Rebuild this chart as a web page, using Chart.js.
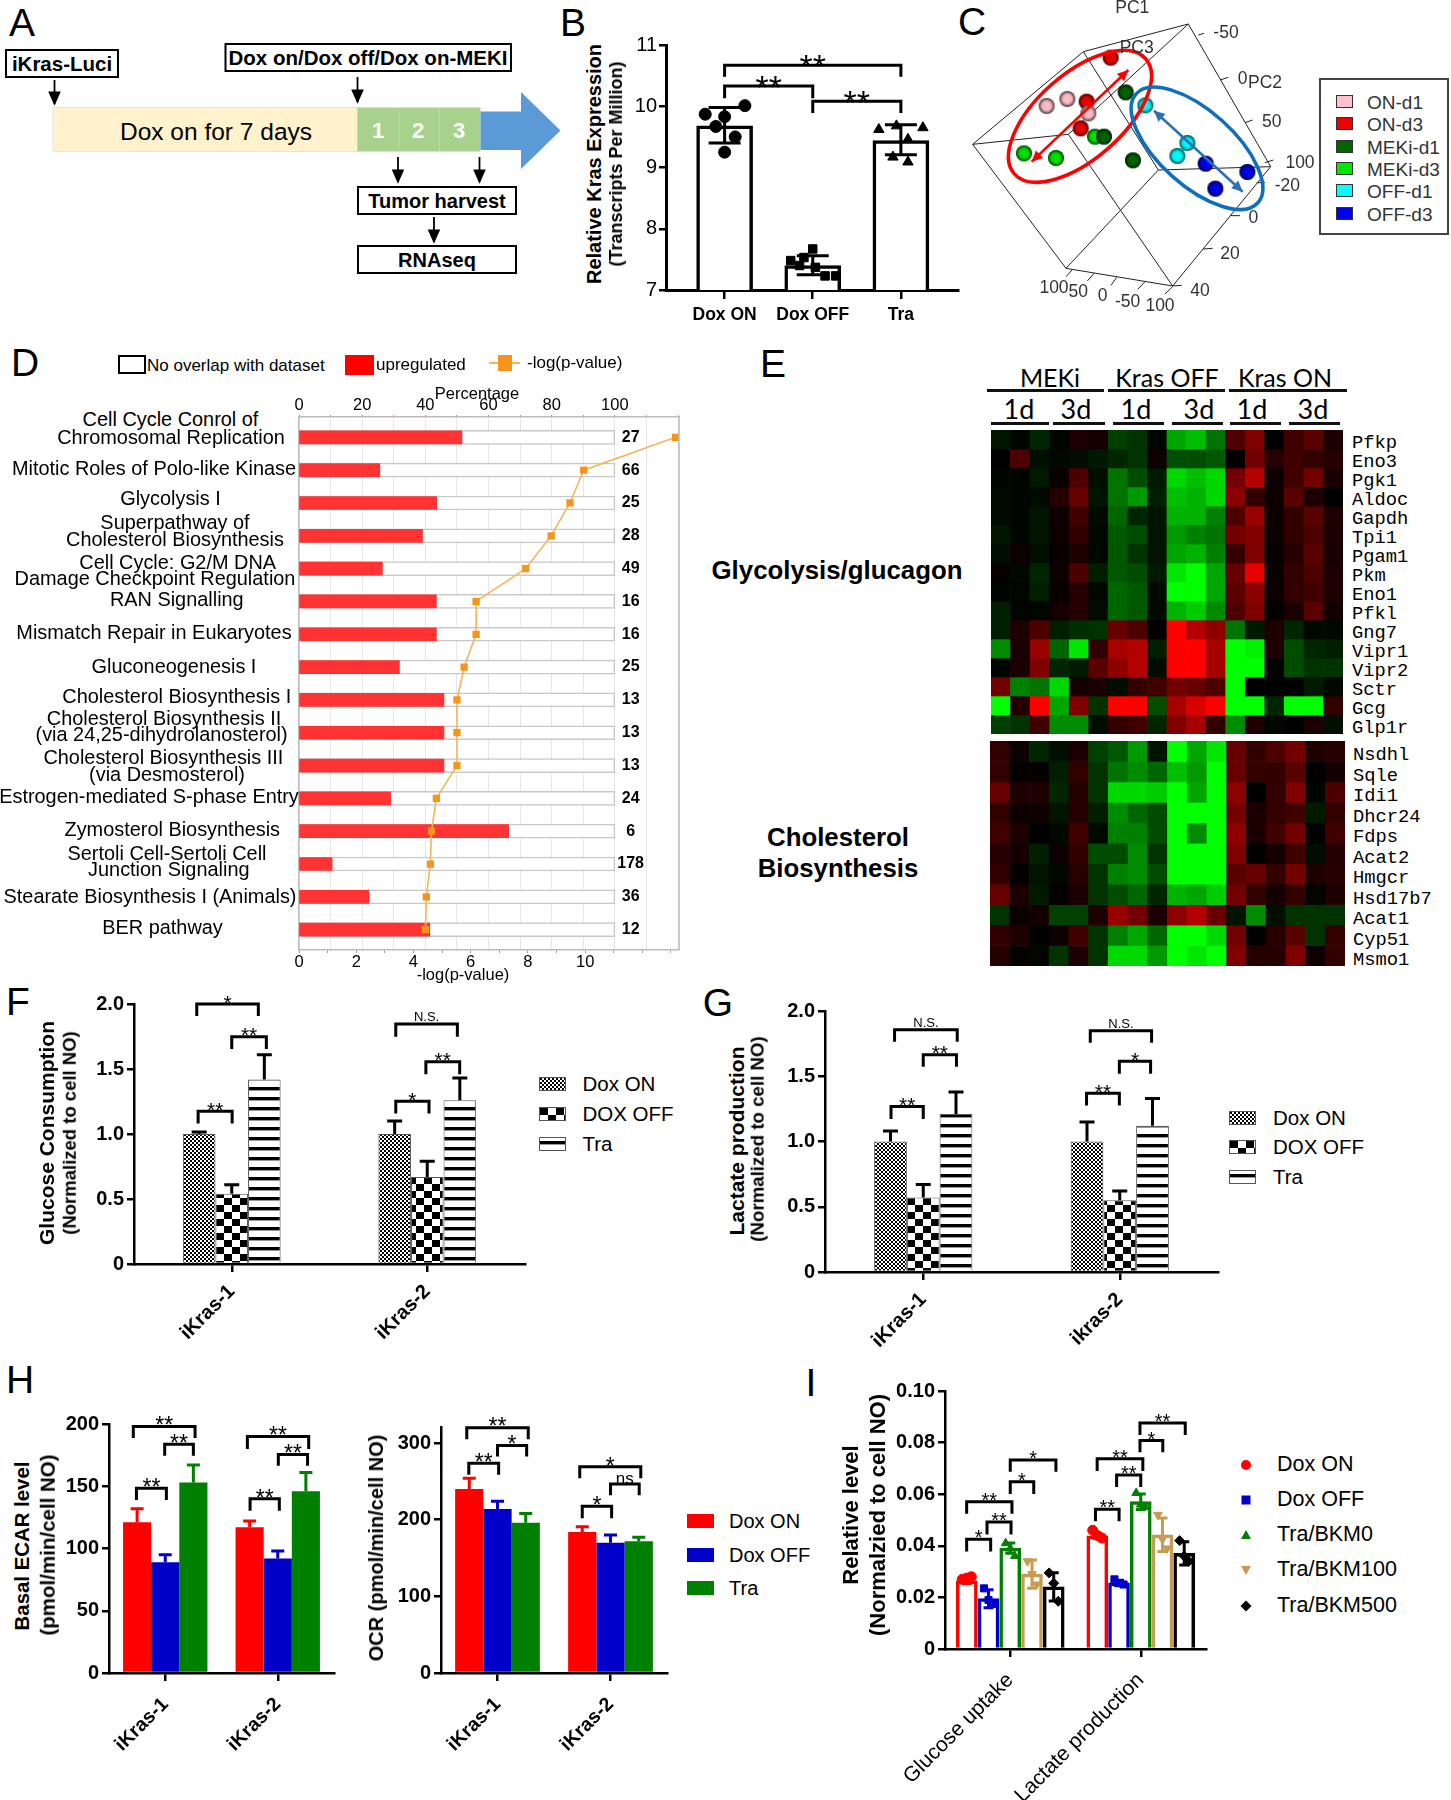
<!DOCTYPE html>
<html>
<head>
<meta charset="utf-8">
<script src="https://cdn.jsdelivr.net/npm/chart.js@4"></script>
<style>
  html, body { margin: 0; background: #fff; }
  #page { position: relative; width: 1451px; height: 1800px; overflow: hidden; font-family: "Liberation Sans", Arial, sans-serif; color: #000; }
  #page canvas { position: absolute; }
  .t { position: absolute; white-space: nowrap; line-height: 1; }
</style>
</head>
<body>
<div id="page"></div>
<script>
// panel B
const bCategories = ["Dox ON", "Dox OFF", "Tra"];
const bMeans = [9.68, 7.4, 9.44];
const bErrHi = [9.98, 7.56, 9.7];
const bErrLo = [9.4, 7.25, 9.21];
const bDoxOn = [10.01, 9.87, 9.83, 9.67, 9.5, 9.25];
const bDoxOnSpread = [0.23, -0.22, 0, -0.1, 0.12, 0];
const bDoxOff = [7.67, 7.53, 7.48, 7.4, 7.37, 7.23, 7.23];
const bDoxOffSpread = [0, -0.1, -0.25, -0.15, 0.03, 0.14, 0.26];
const bTra = [9.62, 9.68, 9.65, 9.46, 9.17, 9.09];
const bTraSpread = [-0.25, -0.05, 0.25, 0.08, -0.09, 0.08];

// panel C
const pcaNames = ["ON-d1", "ON-d3", "MEKi-d1", "MEKi-d3", "OFF-d1", "OFF-d3"];
const pcaColors = ["#ffc0cb", "#ee0000", "#006400", "#00e600", "#00ffff", "#0000ee"];
const pcaOnD1 = [[290, 318], [352, 297], [415, 340]];
const pcaOnD3 = [[482, 173], [410, 305], [392, 385]];
const pcaMekD1 = [[527, 277], [462, 410], [549, 481]];
const pcaMekD3 = [[222, 460], [318, 474], [435, 410]];
const pcaOffD1 = [[586, 316], [712, 429], [682, 468]];
const pcaOffD3 = [[767, 491], [892, 516], [796, 566]];

// panel D
const dCounts = [27, 66, 25, 28, 49, 16, 16, 25, 13, 13, 13, 24, 6, 178, 36, 12];
const dPercent = [51.6, 25.6, 43.6, 39.1, 26.4, 43.5, 43.5, 31.8, 45.9, 45.9, 45.9, 29.0, 66.4, 10.5, 22.2, 41.4];
const dLogP = [13.16, 9.95, 9.47, 8.81, 7.92, 6.19, 6.19, 5.77, 5.52, 5.52, 5.52, 4.8, 4.63, 4.59, 4.45, 4.42];

// panel E, >0 green, <0 red
const heatColumns = ["M1a","M1b","M1c","M3a","M3b","M3c","F1a","F1b","F1c","F3a","F3b","F3c","O1a","O1b","O1c","O3a","O3b","O3c"];
const glycoGenes = ["Pfkp","Eno3","Pgk1","Aldoc","Gapdh","Tpi1","Pgam1","Pkm","Eno1","Pfkl","Gng7","Vipr1","Vipr2","Sctr","Gcg","Glp1r"];
const cholGenes = ["Nsdhl","Sqle","Idi1","Dhcr24","Fdps","Acat2","Hmgcr","Hsd17b7","Acat1","Cyp51","Msmo1"];
const glycoHeat = [
  [.08,.02,.15,.02,-.12,-.08,.25,.2,.02,.65,.75,.45,-.3,-.5,0,-.25,-.35,-.1],
  [0,-.3,.06,.03,.05,.1,.15,.2,-.05,.3,.3,.35,0,-.45,-.15,-.25,-.2,-.15],
  [.02,.02,.1,-.04,-.3,.06,.45,.3,.1,.85,.75,.85,-.45,-.7,-.05,-.25,-.45,-.1],
  [.04,.02,.04,-.15,-.4,.08,.45,.6,.12,.75,.7,.85,-.55,-.2,-.06,-.35,-.1,0],
  [.04,.02,.08,-.06,-.25,.04,.4,.15,.08,.7,.7,.5,-.3,-.6,-.05,-.2,-.35,-.12],
  [.08,.02,.08,-.05,-.2,.03,.35,.3,.08,.6,.5,.45,-.45,-.5,-.05,-.2,-.3,-.1],
  [.05,-.05,.06,-.03,-.12,.03,.35,.2,.08,.65,.7,.5,-.2,-.5,-.03,-.15,-.35,-.1],
  [-.03,.03,.15,-.05,-.3,.12,.35,.3,.1,.9,1,.65,-.4,-.9,-.04,-.2,-.3,-.12],
  [.02,.02,.12,-.03,-.15,.03,.4,.35,.04,1,1,.65,-.35,-.55,-.05,-.2,-.25,-.12],
  [.12,.02,.02,-.08,-.15,.05,.4,.35,.04,.7,.8,.55,-.3,-.5,-.02,-.1,-.35,-.08],
  [.12,-.12,-.3,.12,.18,.2,-.4,-.3,0,-1,-.7,-.55,.45,.1,-.12,.15,.03,.03],
  [.55,-.1,-.6,.4,.9,-.2,-.65,-.7,.12,-1,-1,-.65,1,.95,-.12,.3,.15,.12],
  [.02,-.1,-.5,.15,.1,-.35,-.55,-.7,.05,-1,-1,-.65,1,1,0,.3,.2,.2],
  [-.45,.5,.45,.85,-.08,-.1,.05,-.2,-.25,-.45,-.4,-.3,1,0,0,0,.1,.03],
  [1,-.15,-1,.65,-.5,.2,-1,-1,.3,-.65,-.85,-1,1,1,.15,1,1,-.2],
  [.25,.2,-.25,.55,.55,.05,-.2,-.25,.15,-.5,-.65,-.2,.55,-.12,.03,0,-.1,.06]
];
const cholHeat = [
  [-.2,-.05,.15,.06,-.1,.25,.35,.6,.08,1,.65,.9,-.4,-.2,-.3,-.45,-.12,-.15],
  [-.2,-.02,-.02,.12,-.2,.2,.45,.55,.4,.75,.6,1,-.4,-.2,-.2,-.35,0,-.08],
  [-.4,-.12,-.12,.15,-.15,.2,.85,.85,.8,1,.65,1,-.55,0,-.2,-.5,.02,-.3],
  [-.2,-.05,-.05,.08,-.15,.12,.55,.4,.3,1,1,1,-.45,-.1,-.2,-.25,.1,-.2],
  [-.25,-.1,0,.03,-.25,.04,.5,.5,.3,1,.55,1,-.55,-.1,-.25,-.45,0,-.25],
  [-.15,-.08,.12,-.05,-.2,.3,.3,.55,.2,1,1,1,-.5,-.02,-.08,-.25,.05,-.15],
  [-.2,-.02,.08,.03,-.15,.2,.5,.55,.3,1,1,1,-.35,-.4,-.2,-.45,-.12,-.15],
  [-.4,-.1,.1,-.02,-.1,.2,.3,.4,.15,.7,.65,.8,-.45,-.2,-.08,-.2,.02,-.12],
  [.2,-.04,-.08,.25,.25,-.12,-.6,-.45,-.1,-.55,-.7,-.4,.08,.55,.06,.2,.2,.2],
  [-.2,-.12,0,-.06,-.25,.2,.5,.65,.4,1,1,.85,-.45,0,-.15,-.35,.2,-.2],
  [-.15,-.02,.02,.2,-.12,.2,.85,.85,.6,1,.9,1,-.5,-.15,-.15,-.5,-.05,-.2]
];

// panels F, G, H
const cellLinesF = ["iKras-1", "iKras-2"];
const cellLinesG = ["iKras-1", "ikras-2"];
const fSeries = ["Dox ON", "DOX OFF", "Tra"];
const fMeans = [[1.0, 1.0], [0.54, 0.67], [1.42, 1.26]];
const fTops = [[1.015, 1.10], [0.61, 0.79], [1.61, 1.43]];
const gMeans = [[1.0, 1.0], [0.57, 0.55], [1.21, 1.12]];
const gTops = [[1.08, 1.15], [0.67, 0.62], [1.38, 1.33]];
const hSeries = ["Dox ON", "Dox OFF", "Tra"];
const ecarMeans = [[121, 117], [89, 92], [153, 146]];
const ecarTops = [[132, 122], [95, 98], [167, 161]];
const ocrMeans = [[240, 184], [214, 170], [196, 172]];
const ocrTops = [[254, 191], [224, 180], [208, 177]];

// panel I
const iCategories = ["Glucose uptake", "Lactate production"];
const iSeries = ["Dox ON", "Dox OFF", "Tra/BKM0", "Tra/BKM100", "Tra/BKM500"];
const iMeans = [[.0264, .0439], [.0195, .0256], [.0391, .0571], [.029, .0443], [.0241, .0371]];
const iErr = [[.001, .001], [.0035, .001], [.002, .003], [.0055, .0065], [.0055, .0045]];
const iPoints = [
  [[.027, .0275, .028], [.046, .044, .043]],
  [[.0235, .019, .0175], [.027, .0255, .025]],
  [[.041, .039, .036], [.0605, .056, .055]],
  [[.034, .029, .025], [.052, .0425, .039]],
  [[.0295, .0255, .0185], [.042, .036, .034]]
];

Chart.defaults.animation = false;
Chart.defaults.font.family = '"Liberation Sans", Arial, sans-serif';
Chart.defaults.color = "#000";
Chart.defaults.layout.autoPadding = false;
Chart.defaults.plugins.legend.display = false;
Chart.defaults.plugins.tooltip.enabled = false;

const page = document.getElementById("page");

function label(text, x, y, opts = {}) {
  const el = document.createElement("div");
  el.className = "t";
  el.textContent = text;
  el.style.left = x + "px";
  el.style.top = y + "px";
  el.style.fontSize = (opts.size || 18) + "px";
  if (opts.bold) el.style.fontWeight = "bold";
  if (opts.color) el.style.color = opts.color;
  if (opts.family) el.style.fontFamily = opts.family;
  const tx = opts.align === "left" ? "0" : "-50%";
  el.style.transform = `translate(${tx},-50%)` + (opts.rot ? ` rotate(${opts.rot}deg)` : "");
  page.appendChild(el);
  return el;
}

// puts a canvas so that the plot area lands on area = [x0, y0, x1, y1]
function addChart(area, pad, config) {
  const c = document.createElement("canvas");
  c.width = Math.round(area[2] - area[0] + pad.l + pad.r);
  c.height = Math.round(area[3] - area[1] + pad.t + pad.b);
  c.style.left = (area[0] - pad.l) + "px";
  c.style.top = (area[1] - pad.t) + "px";
  page.appendChild(c);
  config.options = Object.assign({ responsive: false, maintainAspectRatio: false }, config.options);
  return new Chart(c.getContext("2d"), config);
}

// significance brackets: [x from, x to, value of top, value of leg end, text]
function bracketPlugin(list, starSize) {
  return {
    id: "brackets",
    afterDatasetsDraw(chart) {
      const { ctx, scales } = chart;
      ctx.save();
      ctx.strokeStyle = "#000";
      ctx.fillStyle = "#000";
      ctx.lineWidth = 3;
      ctx.textAlign = "center";
      list.forEach(([a, b, top, end, txt]) => {
        const x1 = scales.x.getPixelForValue(a), x2 = scales.x.getPixelForValue(b);
        const yt = scales.y.getPixelForValue(top), ye = scales.y.getPixelForValue(end);
        ctx.beginPath();
        ctx.moveTo(x1, ye); ctx.lineTo(x1, yt); ctx.lineTo(x2, yt); ctx.lineTo(x2, ye);
        ctx.stroke();
        if (txt[0] === "*") {
          ctx.font = starSize + 'px "Liberation Sans"';
          ctx.fillText(txt, (x1 + x2) / 2, yt - 6.5 + 0.575 * starSize);
        } else {
          ctx.font = (txt === "ns" ? 17 : 13) + 'px "Liberation Sans"';
          ctx.fillText(txt, (x1 + x2) / 2, yt - (txt === "ns" ? 0 : 3));
        }
      });
      ctx.restore();
    }
  };
}

// error bars use the bars the library placed
const errorPlugin = {
  id: "errors",
  afterDatasetsDraw(chart) {
    const { ctx, scales } = chart;
    ctx.save();
    chart.data.datasets.forEach((ds, i) => {
      if (!ds.errHi) return;
      const meta = chart.getDatasetMeta(i);
      ctx.strokeStyle = ds.errColor || "#000";
      ctx.lineWidth = ds.errWidth || 3;
      const cap = ds.errCap || 7;
      meta.data.forEach((bar, j) => {
        const hi = scales.y.getPixelForValue(ds.errHi[j]);
        const lo = ds.errLo ? scales.y.getPixelForValue(ds.errLo[j]) : bar.y;
        ctx.beginPath();
        ctx.moveTo(bar.x, lo); ctx.lineTo(bar.x, hi);
        ctx.moveTo(bar.x - cap, hi); ctx.lineTo(bar.x + cap, hi);
        if (ds.errLo) { ctx.moveTo(bar.x - cap, lo); ctx.lineTo(bar.x + cap, lo); }
        ctx.stroke();
      });
    });
    ctx.restore();
  }
};

function axisY(pad, max, step, font, extra) {
  return Object.assign({
    min: 0, max: max,
    afterFit: s => { s.width = pad.l; },
    border: { color: "#000", width: 2.5 },
    grid: { drawOnChartArea: false, color: "#000", lineWidth: 2.5, tickLength: 7 },
    ticks: { stepSize: step, font: font, padding: 3, includeBounds: false, color: "#000" }
  }, extra);
}
function axisX(pad, font, padding) {
  return {
    afterFit: s => { s.height = pad.b; },
    border: { color: "#000", width: 2.5 },
    grid: { drawOnChartArea: false, color: "#000", lineWidth: 2.5, tickLength: 8, offset: false },
    ticks: { font: font, minRotation: 45, maxRotation: 45, padding: padding, autoSkip: false, color: "#000" }
  };
}

function pattern(w, h, draw) {
  const c = document.createElement("canvas");
  c.width = w; c.height = h;
  const g = c.getContext("2d");
  g.fillStyle = "#fff";
  g.fillRect(0, 0, w, h);
  g.fillStyle = "#000";
  draw(g);
  return c;
}
const tileFine = pattern(4, 4, g => { g.fillRect(0, 0, 2, 2); g.fillRect(2, 2, 2, 2); });
const tileCheck = pattern(16, 14, g => { g.fillRect(0, 0, 8, 7); g.fillRect(8, 7, 8, 7); });
const tileStripe = pattern(8, 10, g => { g.fillRect(0, 3, 8, 3.4); });
const tiles = [tileFine, tileCheck, tileStripe];

function legendRows(names, x, ys, textX, size, swatch) {
  names.forEach((n, i) => {
    swatch(i, x, ys[i]);
    label(n, textX, ys[i], { size: size, align: "left" });
  });
}
function patternSwatch(i, x, y, w) {
  const d = document.createElement("div");
  d.style.cssText = `position:absolute;left:${x}px;top:${y - 7}px;width:${w}px;height:14px;border:1px solid #555;box-sizing:border-box;background:url(${tiles[i].toDataURL()})`;
  page.appendChild(d);
}
function colorSwatch(color, x, y) {
  const d = document.createElement("div");
  d.style.cssText = `position:absolute;left:${x}px;top:${y - 7}px;width:27px;height:14px;background:${color}`;
  page.appendChild(d);
}

/* ---------- panel letters ---------- */
[["A", 22, 22], ["B", 573, 22], ["C", 972, 21], ["D", 25, 362], ["E", 773, 363], ["F", 18, 1001],
 ["G", 718, 1002], ["H", 20, 1379], ["I", 811, 1382]].forEach(p => label(p[0], p[1], p[2], { size: 39 }));

/* ---------- panel A, the schedule drawing ---------- */
const ns = "http://www.w3.org/2000/svg";
const svg = document.createElementNS(ns, "svg");
svg.setAttribute("width", 570);
svg.setAttribute("height", 290);
svg.style.cssText = "position:absolute;left:0;top:0";
svg.innerHTML = `
  <defs><marker id="ah" markerWidth="8" markerHeight="8" refX="7" refY="3.5" orient="auto"><path d="M0 0L8 3.5L0 7z" fill="#000"/></marker></defs>
  <rect x="53" y="107.5" width="304.5" height="44" fill="#fff2cc" stroke="#e4e4e4"/>
  <rect x="357.5" y="107.5" width="123" height="44" fill="#a9d18e"/>
  <path d="M399 107.5V151.5M439.5 107.5V151.5" stroke="#b9dca2" fill="none"/>
  <path d="M480.5 111.5H521V92L560.5 130.5L521 169V150H480.5z" fill="#5b9bd5"/>
  <rect x="6" y="50" width="112" height="27" fill="#fff" stroke="#000" stroke-width="2"/>
  <rect x="225.5" y="44" width="285.5" height="27" fill="#fff" stroke="#000" stroke-width="2"/>
  <rect x="358" y="187" width="158" height="27" fill="#fff" stroke="#000" stroke-width="2"/>
  <rect x="358" y="246" width="158" height="27" fill="#fff" stroke="#000" stroke-width="2"/>
  <g stroke="#000" stroke-width="1.8" marker-end="url(#ah)">
    <line x1="54.5" y1="80" x2="54.5" y2="104"/>
    <line x1="357.5" y1="77" x2="357.5" y2="102"/>
    <line x1="398" y1="157" x2="398" y2="182"/>
    <line x1="479.5" y1="157" x2="479.5" y2="182"/>
    <line x1="434" y1="217" x2="434" y2="242"/>
  </g>`;
page.appendChild(svg);
label("iKras-Luci", 62, 64, { size: 20.5, bold: true });
label("Dox on/Dox off/Dox on-MEKI", 368, 58, { size: 20.5, bold: true });
label("Dox on for 7 days", 216, 132, { size: 24.5 });
[["1", 378], ["2", 418], ["3", 459]].forEach(d => label(d[0], d[1], 131, { size: 22, bold: true, color: "#fff" }));
label("Tumor harvest", 437, 201, { size: 20, bold: true });
label("RNAseq", 437, 260, { size: 20, bold: true });

/* ---------- panel B ---------- */
const padB = { l: 60, t: 10, r: 4, b: 40 };
const bScatter = (vals, spread, g, style) => ({
  type: "scatter", order: 0,
  data: vals.map((v, k) => ({ x: g + spread[k], y: v })),
  pointStyle: style, pointRadius: 6, pointBackgroundColor: "#000", pointBorderColor: "#000"
});
addChart([665.5, 41, 957, 289.7], padB, {
  type: "bar",
  data: {
    datasets: [
      bScatter(bDoxOn, bDoxOnSpread, 0, "circle"),
      bScatter(bDoxOff, bDoxOffSpread, 1, "rect"),
      bScatter(bTra, bTraSpread, 2, "triangle"),
      {
        order: 1, data: bMeans.map((v, k) => ({ x: k, y: v })),
        backgroundColor: "#fff", borderColor: "#000", borderWidth: 3.5, barThickness: 56,
        errHi: bErrHi, errLo: bErrLo, errCap: 16, errWidth: 3
      }
    ]
  },
  options: {
    layout: { padding: { right: padB.r, top: padB.t } },
    scales: {
      x: {
        type: "linear", min: -0.665, max: 2.648, offset: false,
        afterFit: s => { s.height = padB.b; },
        afterBuildTicks: s => { s.ticks = bCategories.map((n, k) => ({ value: k })); },
        border: { color: "#000", width: 3 },
        grid: { drawOnChartArea: false, color: "#000", lineWidth: 2.5, tickLength: 9, offset: false },
        ticks: { callback: v => bCategories[v], font: { size: 17.5, weight: "bold" }, maxRotation: 0, padding: 6, color: "#000" }
      },
      y: {
        min: 7, max: 11,
        afterFit: s => { s.width = padB.l; },
        border: { color: "#000", width: 3 },
        grid: { drawOnChartArea: false, color: "#000", lineWidth: 2.5, tickLength: 7 },
        ticks: { stepSize: 1, font: { size: 20 }, padding: 2, color: "#000" }
      }
    }
  },
  plugins: [errorPlugin, bracketPlugin([
    [0, 2, 10.67, 10.48, "**"],
    [0, 1, 10.33, 10.13, "**"],
    [1, 2, 10.08, 9.89, "**"]
  ], 34)]
});
label("Relative Kras Expression", 594, 164, { size: 20, bold: true, rot: -90 });
label("(Transcripts Per Million)", 616, 164, { size: 18, bold: true, rot: -90 });

/* ---------- panel C ---------- */
// little shaded ball, used as the point style of the scatter
function ball(color, r) {
  const c = document.createElement("canvas");
  c.width = c.height = r * 2 + 2;
  const g = c.getContext("2d");
  const grad = g.createRadialGradient(r + 1, r + 1, 0, r + 1, r + 1, r);
  grad.addColorStop(0, "rgba(0,0,0,0)");
  grad.addColorStop(0.55, "rgba(0,0,0,0.05)");
  grad.addColorStop(1, "rgba(0,0,0,0.7)");
  g.fillStyle = color;
  g.beginPath(); g.arc(r + 1, r + 1, r, 0, 7); g.fill();
  g.fillStyle = grad;
  g.beginPath(); g.arc(r + 1, r + 1, r, 0, 7); g.fill();
  return c;
}
const pcaFrame = [
  [[68,433],[400,155],[715,72],[962,500],[668,858],[348,805],[68,433]],
  [[68,433],[355,403],[668,858]], [[355,403],[715,72]], [[400,155],[625,510]],
  [[625,510],[962,500]], [[625,510],[348,805]],
  [[745,105],[762,100]], [[810,240],[835,232]], [[885,368],[908,360]], [[945,488],[970,480]],
  [[920,548],[945,548]], [[843,647],[870,647]], [[760,747],[788,745]], [[668,858],[695,856]],
  [[348,830],[368,808]], [[412,843],[432,820]], [[483,856],[500,832]], [[563,868],[585,845]], [[645,882],[668,860]]
];
const pcaFramePlugin = {
  id: "pcaFrame",
  beforeDatasetsDraw(chart) {
    const { ctx, scales: { x, y } } = chart;
    ctx.save();
    ctx.strokeStyle = "#222";
    ctx.lineWidth = 1;
    pcaFrame.forEach(path => {
      ctx.beginPath();
      path.forEach((p, i) => i ? ctx.lineTo(x.getPixelForValue(p[0]), y.getPixelForValue(p[1])) : ctx.moveTo(x.getPixelForValue(p[0]), y.getPixelForValue(p[1])));
      ctx.stroke();
    });
    ctx.restore();
  },
  afterDatasetsDraw(chart) {
    const { ctx, scales: { x, y } } = chart;
    const dArrow = (a, b, col) => {
      const x1 = x.getPixelForValue(a[0]), y1 = y.getPixelForValue(a[1]);
      const x2 = x.getPixelForValue(b[0]), y2 = y.getPixelForValue(b[1]);
      const ang = Math.atan2(y2 - y1, x2 - x1);
      ctx.strokeStyle = ctx.fillStyle = col;
      ctx.lineWidth = 2.6;
      ctx.beginPath(); ctx.moveTo(x1, y1); ctx.lineTo(x2, y2); ctx.stroke();
      [[x1, y1, ang + Math.PI], [x2, y2, ang]].forEach(([hx, hy, t]) => {
        ctx.beginPath();
        ctx.moveTo(hx, hy);
        ctx.lineTo(hx - 12 * Math.cos(t - 0.45), hy - 12 * Math.sin(t - 0.45));
        ctx.lineTo(hx - 12 * Math.cos(t + 0.45), hy - 12 * Math.sin(t + 0.45));
        ctx.closePath(); ctx.fill();
      });
    };
    const oval = (c, a, b, rot, col) => {
      ctx.strokeStyle = col;
      ctx.lineWidth = 3.6;
      ctx.beginPath();
      ctx.ellipse(x.getPixelForValue(c[0]), y.getPixelForValue(c[1]),
        x.getPixelForValue(a) - x.getPixelForValue(0), x.getPixelForValue(b) - x.getPixelForValue(0), rot, 0, 7);
      ctx.stroke();
    };
    ctx.save();
    oval([390, 349], 262, 128, -0.72, "#ff0000");
    oval([741, 445], 245, 112, 0.73, "#0f6fbf");
    dArrow([245, 485], [535, 210], "#ff0000");
    dArrow([612, 332], [878, 575], "#2a72b5");
    ctx.restore();
  }
};
const pcaSeries = [pcaOnD1, pcaOnD3, pcaMekD1, pcaMekD3, pcaOffD1, pcaOffD3];
addChart([950, 0, 1290, 330], { l: 0, t: 0, r: 0, b: 0 }, {
  type: "scatter",
  data: {
    datasets: pcaSeries.map((pts, i) => ({
      label: pcaNames[i],
      data: pts.map(p => ({ x: p[0], y: p[1] })),
      pointStyle: ball(pcaColors[i], 8), pointRadius: 8
    }))
  },
  options: {
    scales: {
      x: { display: false, min: 0, max: 1020, offset: false },
      y: { display: false, min: 0, max: 990, reverse: true }
    }
  },
  plugins: [pcaFramePlugin]
});
[["PC1", 547, 25], ["PC3", 560, 145], ["PC2", 945, 248], ["-50", 828, 100], ["0", 878, 238], ["50", 965, 365],
 ["100", 1050, 488], ["-20", 1012, 558], ["0", 910, 655], ["20", 840, 762], ["40", 750, 872], ["100", 312, 865],
 ["50", 385, 877], ["0", 458, 888], ["-50", 533, 905], ["100", 630, 918]]
  .forEach(t => label(t[0], 950 + t[1] / 3, t[2] / 3, { size: 17.5, color: "#333" }));
const pcaBox = document.createElement("div");
pcaBox.style.cssText = "position:absolute;left:1319px;top:78px;width:130px;height:157px;border:2px solid #444;box-sizing:border-box";
page.appendChild(pcaBox);
pcaNames.forEach((n, i) => {
  const y = 101 + i * 22.3;
  const sw = document.createElement("div");
  sw.style.cssText = `position:absolute;left:1336px;top:${y - 6}px;width:15px;height:11px;border:1px solid #333;background:${pcaColors[i]}`;
  page.appendChild(sw);
  label(n, 1367, y + 1, { size: 19, align: "left", color: "#333" });
});

/* ---------- panel D ---------- */
const padD = { l: 14, t: 30, r: 6, b: 30 };
const dRows = dPercent.map((v, i) => i);
addChart([299, 417, 678.5, 950], padD, {
  type: "bar",
  data: {
    datasets: [
      {
        type: "line", order: 0, xAxisID: "xLog", yAxisID: "y",
        data: dLogP.map((v, i) => ({ x: v, y: i })),
        borderColor: "#f2b65a", borderWidth: 1.6, tension: 0,
        pointStyle: "rect", pointRadius: 4, pointBackgroundColor: "#f7941d", pointBorderColor: "#f7941d"
      },
      {
        order: 1, xAxisID: "xPct", yAxisID: "y",
        data: dPercent.map((v, i) => ({ x: v, y: i })),
        backgroundColor: "#ff3333", barThickness: 13, grouped: false, borderWidth: 0
      },
      {
        order: 2, xAxisID: "xPct", yAxisID: "y",
        data: dRows.map(i => ({ x: 100, y: i })),
        backgroundColor: "#fff", borderColor: "#c8c8c8", borderWidth: 1.5, borderSkipped: false, barThickness: 14, grouped: false
      }
    ]
  },
  options: {
    indexAxis: "y",
    layout: { padding: { top: 0, right: padD.r, left: padD.l } },
    scales: {
      xPct: {
        position: "top", min: 0, max: 120.3,
        afterFit: s => { s.height = padD.t; },
        border: { color: "#bbb", width: 1.5 },
        grid: { color: "#e6e6e6", lineWidth: 1, tickLength: 2, tickColor: "#999", borderDash: [2, 3] },
        ticks: { stepSize: 10, maxTicksLimit: 20, autoSkip: false, includeBounds: false, maxRotation: 0, padding: 0, font: { size: 16.5 }, color: "#000",
          callback: v => (v % 20 === 0 && v <= 100 ? v : "") }
      },
      xLog: {
        position: "bottom", min: 0, max: 13.28,
        afterFit: s => { s.height = padD.b; },
        border: { color: "#bbb", width: 1.5 },
        grid: { drawOnChartArea: false, tickLength: 3, color: "#999" },
        ticks: { stepSize: 1, maxTicksLimit: 20, autoSkip: false, includeBounds: false, maxRotation: 0, padding: 0, font: { size: 16.5 }, color: "#000",
          callback: v => (v % 2 === 0 && v <= 10 ? v : "") }
      },
      y: {
        type: "linear", offset: false,
        min: -0.62, max: 15.62, reverse: true,
        border: { color: "#bbb", width: 1.5 },
        grid: { display: false, offset: false },
        ticks: { display: false },
        afterFit: s => { s.width = 0; }
      }
    }
  },
  plugins: [{
    id: "dCounts",
    afterDraw(chart) {
      const { ctx, scales, chartArea } = chart;
      ctx.save();
      ctx.strokeStyle = "#bbb";
      ctx.lineWidth = 1.5;
      ctx.beginPath(); ctx.moveTo(chartArea.right, chartArea.top); ctx.lineTo(chartArea.right, chartArea.bottom); ctx.stroke();
      ctx.fillStyle = "#000";
      ctx.font = 'bold 16px "Liberation Sans"';
      ctx.textAlign = "center";
      ctx.textBaseline = "middle";
      dCounts.forEach((n, i) => ctx.fillText(n, scales.xPct.getPixelForValue(105), scales.y.getPixelForValue(i)));
      ctx.restore();
    }
  }]
});
[["Cell Cycle Conrol of", 170.5, 420], ["Chromosomal Replication", 171, 437.5], ["Mitotic Roles of Polo-like Kinase", 154, 468.6],
 ["Glycolysis I", 170.5, 499.3], ["Superpathway of", 175, 522.6], ["Cholesterol Biosynthesis", 175, 540.4],
 ["Cell Cycle: G2/M DNA", 177.7, 562.8], ["Damage Checkpoint Regulation", 155, 579.4], ["RAN Signalling", 176.8, 600],
 ["Mismatch Repair in Eukaryotes", 154, 633.4], ["Gluconeogenesis I", 174, 667], ["Cholesterol Biosynthesis I", 176.8, 696.8],
 ["Cholesterol Biosynthesis II", 164, 719], ["(via 24,25-dihydrolanosterol)", 161.6, 735.4], ["Cholesterol Biosynthesis III", 163.4, 758],
 ["(via Desmosterol)", 167, 775], ["Estrogen-mediated S-phase Entry", 149, 797], ["Zymosterol Biosynthesis", 172.3, 829.6],
 ["Sertoli Cell-Sertoli Cell", 167, 853.7], ["Junction Signaling", 168.8, 870.3], ["Stearate Biosynthesis I (Animals)", 150, 897],
 ["BER pathway", 162.5, 928]].forEach(t => label(t[0], t[1], t[2], { size: 19.9 }));
label("Percentage", 477, 393, { size: 16.5 });
label("-log(p-value)", 463, 974, { size: 16.5 });
label("No overlap with dataset", 147, 365, { size: 17, align: "left" });
label("upregulated", 376, 364, { size: 17, align: "left" });
label("-log(p-value)", 527, 362, { size: 17, align: "left" });
const dLegend = document.createElement("div");
dLegend.innerHTML = `
  <div style="position:absolute;left:118px;top:355px;width:28px;height:19px;border:2px solid #000;box-sizing:border-box;background:#fff"></div>
  <div style="position:absolute;left:345px;top:355px;width:29px;height:20px;background:#ff0000"></div>
  <div style="position:absolute;left:489px;top:362px;width:31px;height:2px;background:#f2b65a"></div>
  <div style="position:absolute;left:498px;top:355px;width:14px;height:16px;background:#f7941d"></div>`;
page.appendChild(dLegend);

/* ---------- panel E ---------- */
const heatColor = v => v >= 0 ? `rgb(0,${Math.round(v * 255)},0)` : `rgb(${Math.round(-v * 255)},0,0)`;
function heatmap(area, matrix) {
  addChart(area, { l: 0, t: 0, r: 0, b: 0 }, {
    type: "bar",
    data: {
      labels: heatColumns,
      datasets: matrix.map((row, r) => ({
        data: row.map(() => [r, r + 1]),
        backgroundColor: row.map(heatColor),
        grouped: false, barPercentage: 1, categoryPercentage: 1, borderWidth: 0
      }))
    },
    options: {
      scales: {
        x: { display: false },
        y: { display: false, min: 0, max: matrix.length, reverse: true }
      }
    }
  });
}
heatmap([991, 430, 1343, 734], glycoHeat);
heatmap([990, 741, 1345, 966], cholHeat);
const geneFont = '"Liberation Mono", monospace';
glycoGenes.forEach((g, i) => label(g, 1352, 442.7 + i * 19.05, { size: 18.8, align: "left", family: geneFont }));
cholGenes.forEach((g, i) => label(g, 1353, 755 + i * 20.5, { size: 18.8, align: "left", family: geneFont }));
[["MEKi", 1050], ["Kras OFF", 1167], ["Kras ON", 1285]].forEach(h => label(h[0], h[1], 377, { size: 25, family: "Lato" }));
[["1d", 1019], ["3d", 1076], ["1d", 1136], ["3d", 1199], ["1d", 1252], ["3d", 1313]].forEach(h => label(h[0], h[1], 408, { size: 27, family: "Lato" }));
[[987, 1104, 390], [1108, 1225, 390], [1229, 1347, 390], [991, 1049, 423], [1053, 1105, 423], [1113, 1164, 423], [1172, 1223, 423], [1230, 1281, 423], [1289, 1340, 423]]
  .forEach(u => {
    const d = document.createElement("div");
    d.style.cssText = `position:absolute;left:${u[0]}px;top:${u[2] - 1}px;width:${u[1] - u[0]}px;height:2.5px;background:#111`;
    page.appendChild(d);
  });
label("Glycolysis/glucagon", 837, 571, { size: 25.8, bold: true });
label("Cholesterol", 838, 838, { size: 25.8, bold: true });
label("Biosynthesis", 838, 869, { size: 25.8, bold: true });

/* ---------- panels F and G ---------- */
const patCtx = document.createElement("canvas").getContext("2d");
function patternBars(area, cats, means, tops, brackets) {
  const pad = { l: 70, t: 30, r: 4, b: 90 };
  addChart(area, pad, {
    type: "bar",
    data: {
      labels: cats,
      datasets: means.map((vals, s) => ({
        data: vals, errHi: tops[s], errCap: 7.5,
        backgroundColor: patCtx.createPattern(tiles[s], "repeat"),
        borderColor: "#555", borderWidth: 1, barPercentage: 1, categoryPercentage: 0.5
      }))
    },
    options: {
      layout: { padding: { top: pad.t, right: pad.r } },
      scales: {
        x: axisX(pad, { size: 20, weight: "bold" }, 8),
        y: axisY(pad, 2, 0.5, { size: 20, weight: "bold" })
      }
    },
    plugins: [errorPlugin, bracketPlugin(brackets, 21)]
  });
}
patternBars([134, 1004, 524.5, 1263.5], cellLinesF, fMeans, fTops, [
  [-0.179, 0.136, 2.0, 1.907, "*"],
  [0, 0.177, 1.748, 1.653, "**"],
  [-0.172, 0.002, 1.175, 1.08, "**"],
  [0.839, 1.154, 1.846, 1.748, "N.S."],
  [0.993, 1.166, 1.555, 1.46, "**"],
  [0.839, 1.009, 1.252, 1.157, "*"]
]);
patternBars([824.5, 1010.5, 1217, 1271.5], cellLinesG, gMeans, gTops, [
  [-0.146, 0.173, 1.857, 1.765, "N.S."],
  [0, 0.169, 1.665, 1.573, "**"],
  [-0.164, 0, 1.269, 1.172, "**"],
  [0.85, 1.162, 1.849, 1.757, "N.S."],
  [0.998, 1.157, 1.614, 1.52, "*"],
  [0.831, 0.998, 1.369, 1.275, "**"]
]);
label("Glucose Consumption", 46, 1133, { size: 21, bold: true, rot: -90 });
label("(Normalized to cell NO)", 70, 1133, { size: 18.5, bold: true, rot: -90 });
label("Lactate production", 736, 1141, { size: 21, bold: true, rot: -90 });
label("(Normalized to cell NO)", 758, 1139, { size: 18.7, bold: true, rot: -90 });
legendRows(fSeries, 539, [1084, 1113.5, 1143.5], 582.5, 20.5, (i, x, y) => patternSwatch(i, x, y, 27));
legendRows(fSeries, 1229, [1117.5, 1147, 1177], 1273, 20.5, (i, x, y) => patternSwatch(i, x, y, 27));

/* ---------- panel H ---------- */
const hColors = ["#ff0000", "#0000c8", "#008000"];
function solidBars(area, means, tops, yMax, step, brackets) {
  const pad = { l: 70, t: 10, r: 4, b: 90 };
  addChart(area, pad, {
    type: "bar",
    data: {
      labels: cellLinesF,
      datasets: means.map((vals, s) => ({
        data: vals, errHi: tops[s], errColor: hColors[s], errCap: 6.5,
        backgroundColor: hColors[s], barPercentage: 1, categoryPercentage: 0.75
      }))
    },
    options: {
      layout: { padding: { top: pad.t, right: pad.r } },
      scales: {
        x: axisX(pad, { size: 19.5, weight: "bold" }, 12),
        y: axisY(pad, yMax, step, { size: 20, weight: "bold" })
      }
    },
    plugins: [errorPlugin, bracketPlugin(brackets, 23)]
  });
}
solidBars([108.5, 1418.5, 333.5, 1672.5], ecarMeans, ecarTops, 200, 50, [
  [-0.284, 0.265, 198, 188.7, "**"],
  [-0.005, 0.25, 183.7, 174.5, "**"],
  [-0.256, 0.01, 148.3, 139, "**"],
  [0.73, 1.275, 190, 180, "**"],
  [1.005, 1.265, 175.6, 166.4, "**"],
  [0.754, 1.014, 139.9, 130.4, "**"]
]);
solidBars([440.5, 1421.5, 666, 1672.5], ocrMeans, ocrTops, 321, 100, [
  [-0.272, 0.272, 320, 305, "**"],
  [0, 0.258, 297, 282.5, "*"],
  [-0.254, 0.01, 273.6, 258.6, "**"],
  [0.728, 1.268, 269, 254, "*"],
  [1.0, 1.254, 246.7, 231.8, "ns"],
  [0.75, 1.01, 217.7, 201.9, "*"]
]);
label("Basal ECAR level", 22, 1546, { size: 20.4, bold: true, rot: -90 });
label("(pmol/min/cell NO)", 47.5, 1545, { size: 20.5, bold: true, rot: -90 });
label("OCR (pmol/min/cell NO)", 376, 1548, { size: 20, bold: true, rot: -90 });
legendRows(hSeries, 686.5, [1521, 1554.7, 1588], 729, 20, (i, x, y) => colorSwatch(hColors[i], x, y));

/* ---------- panel I ---------- */
const iColors = ["#ff0000", "#0000c8", "#008000", "#c89b50", "#000000"];
const iStyles = [["circle", 0], ["rect", 0], ["triangle", 0], ["triangle", 180], ["rectRot", 0]];
const iSpread = [-0.035, 0, 0.035];
const iStep = 0.1665;
const padI = { l: 90, t: 10, r: 4, b: 152 };
const iAxisX = axisX(padI, { size: 21 }, 11);
iAxisX.ticks.callback = v => iCategories[v];
addChart([945, 1385.5, 1205.5, 1648.5], padI, {
  type: "bar",
  data: {
    datasets: [
      ...iPoints.map((groups, s) => ({
        type: "scatter", order: 0,
        data: groups.flatMap((pts, g) => pts.map((v, k) => ({ x: g + (s - 2) * iStep + iSpread[k], y: v }))),
        pointStyle: iStyles[s][0], rotation: iStyles[s][1], pointRadius: 5,
        pointBackgroundColor: iColors[s], pointBorderColor: iColors[s]
      })),
      ...iMeans.map((vals, s) => ({
        order: 1, grouped: false, barThickness: 21,
        data: vals.map((v, g) => ({ x: g + (s - 2) * iStep, y: v })),
        errHi: vals.map((v, g) => v + iErr[s][g]), errLo: vals.map((v, g) => v - iErr[s][g]),
        errColor: iColors[s], errCap: 5,
        backgroundColor: "#fff", borderColor: iColors[s], borderWidth: 3.5
      }))
    ]
  },
  options: {
    layout: { padding: { top: padI.t, right: padI.r } },
    scales: {
      x: Object.assign(iAxisX, {
        type: "linear", min: -0.5, max: 1.5, offset: false,
        afterBuildTicks: s => { s.ticks = iCategories.map((n, g) => ({ value: g })); }
      }),
      y: axisY(padI, 0.1, 0.02, { size: 20, weight: "bold" })
    }
  },
  plugins: [errorPlugin, bracketPlugin([
    [-0.334, -0.15, 0.0425, 0.0378, "*"],
    [-0.178, 0.006, 0.0492, 0.0444, "**"],
    [-0.334, 0.013, 0.0571, 0.0524, "**"],
    [0, 0.18, 0.0648, 0.0601, "*"],
    [0, 0.35, 0.0733, 0.0687, "*"],
    [0.653, 0.834, 0.0542, 0.0495, "**"],
    [0.815, 1.0, 0.0674, 0.0628, "**"],
    [0.666, 1.016, 0.0737, 0.069, "**"],
    [0.994, 1.169, 0.0808, 0.0763, "*"],
    [0.994, 1.341, 0.0876, 0.0829, "**"]
  ], 20)]
});
label("Relative level", 850.5, 1515, { size: 22, bold: true, rot: -90 });
label("(Normalzied to cell NO)", 878, 1515, { size: 22, bold: true, rot: -90 });
const iMarks = [
  '<circle cx="8" cy="8" r="5" fill="#ff0000"/>',
  '<rect x="3.5" y="3.5" width="9" height="9" fill="#0000c8"/>',
  '<path d="M8 3L13 12H3z" fill="#008000"/>',
  '<path d="M8 13L13 4H3z" fill="#c89b50"/>',
  '<path d="M8 2.5L13.5 8L8 13.5L2.5 8z" fill="#000"/>'
];
legendRows(iSeries, 1238, [1465, 1500.3, 1535, 1570, 1605.7], 1277, 21.5, (i, x, y) => {
  const m = document.createElementNS(ns, "svg");
  m.setAttribute("width", 16);
  m.setAttribute("height", 16);
  m.style.cssText = `position:absolute;left:${x}px;top:${y - 8}px`;
  m.innerHTML = iMarks[i];
  page.appendChild(m);
});
</script>
</body>
</html>
